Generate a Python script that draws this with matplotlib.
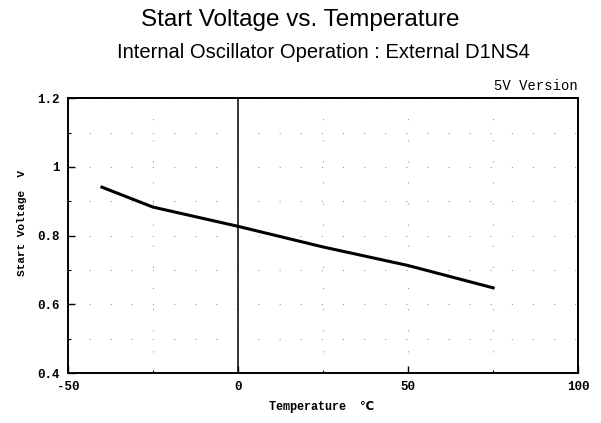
import matplotlib
matplotlib.use('Agg')
import matplotlib.pyplot as plt
import numpy as np

plt.rcParams['axes.unicode_minus'] = False

# data
temp = [-40, -25, 0, 25, 50, 75]
volt = [0.941, 0.883, 0.827, 0.767, 0.713, 0.648]

xticks = [-50, 0, 50, 100]
yticks = [0.4, 0.6, 0.8, 1.0, 1.2]
ytick_labels = ['0.4', '0.6', '0.8', '1', '1.2']

fig = plt.figure(figsize=(6.01, 4.23), dpi=100)
ax = fig.add_axes([0.113, 0.118, 0.849, 0.650])

ax.plot(temp, volt, color='black', linewidth=2.2)
ax.axvline(0, color='black', linewidth=1.1)

ax.set_xlim(-50, 100)
ax.set_ylim(0.4, 1.2)
ax.set_xticks(xticks)
ax.set_yticks(yticks)
ax.set_yticklabels(ytick_labels)
ax.set_yticks([0.5, 0.7, 0.9, 1.1], minor=True)
ax.set_xticks([-25, 25, 75], minor=True)
ax.tick_params(which='major', direction='in', length=5, width=1, pad=6)
ax.tick_params(which='minor', direction='in', length=2, width=0.8)
for lab in ax.get_xticklabels() + ax.get_yticklabels():
    lab.set_fontfamily('Liberation Mono')
    lab.set_fontweight('bold')
    lab.set_fontsize(9)

# faint dotted grid like the scanned original
ax.grid(True, which='both', color='#999999', linestyle=(0, (1, 18)), linewidth=0.8)
ax.set_axisbelow(True)

for s in ax.spines.values():
    s.set_linewidth(1.4)
    s.set_color('black')

ax.set_xlabel('Temperature  ℃', family=['Liberation Mono', 'DejaVu Sans'],
              fontweight='bold', fontsize=8.5)
ax.set_ylabel('Start Voltage  V', family='Liberation Mono', fontweight='bold',
              fontsize=8)
ax.xaxis.set_label_coords(0.498, -0.1)
ax.yaxis.set_label_coords(-0.08, 0.545)

fig.text(0.5, 0.952, 'Start Voltage vs. Temperature', ha='center', va='center',
         family='Liberation Sans', fontsize=17.5)
fig.text(0.538, 0.877, 'Internal Oscillator Operation : External D1NS4', ha='center',
         va='center', family='Liberation Sans', fontsize=14.5)
fig.text(0.961, 0.797, '5V Version', ha='right', va='center',
         family='Liberation Mono', fontsize=10)

fig.savefig('out.png', dpi=100)
